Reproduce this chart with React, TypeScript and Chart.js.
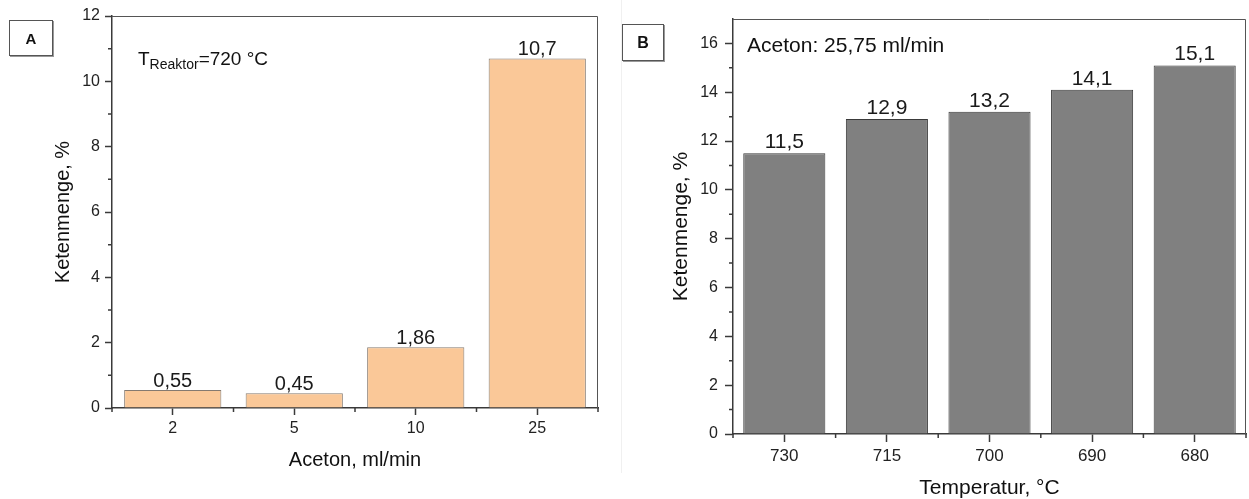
import React, { useEffect, useRef } from 'react';
import { Chart, registerables } from 'chart.js';

Chart.register(...registerables);

// ---------- data ----------
const flowCategories = ['2', '5', '10', '25'];
const flowValues = [0.55, 0.45, 1.86, 10.7];
const flowYTicks = [0, 2, 4, 6, 8, 10, 12];
const flowYMinor = [1, 3, 5, 7, 9, 11];

const tempCategories = ['730', '715', '700', '690', '680'];
const tempValues = [11.5, 12.9, 13.2, 14.1, 15.1];
const tempYTicks = [0, 2, 4, 6, 8, 10, 12, 14, 16];
const tempYMinor = [1, 3, 5, 7, 9, 11, 13, 15];

const FONT = '"Liberation Sans", Arimo, Arial, Helvetica, sans-serif';
const AXIS = '#3a3a3a';

const fmt = (v: number) => String(v).replace('.', ',');

type PanelCfg = {
  categories: string[];
  values: number[];
  yTicks: number[];
  yMinor: number[];
  yMax: number;
  xTitle: string;
  yTitle: string;
  fill: string;
  border: string;
  width: number;
  height: number;
  padding: { left: number; top: number; right: number; bottom: number };
  yWidth: number;
  xHeight: number;
  majorLen: number;
  minorLen: number;
  yTickPad: number;
  xTickPad: number;
  yTickSize: number;
  xTickSize: number;
  titleSize: number;
  yTitlePad: number;
  xTitlePad: number;
  valueSize: number;
  valueGap: number;
  annotate: (ctx: CanvasRenderingContext2D, ca: any) => void;
};

function makeConfig(c: PanelCfg): any {
  const decor = {
    id: 'decor',
    afterDatasetsDraw(chart: any) {
      const { ctx, chartArea: ca, scales } = chart;
      ctx.save();
      // frame top / right
      ctx.strokeStyle = '#555';
      ctx.lineWidth = 1;
      ctx.beginPath();
      ctx.moveTo(ca.left, ca.top + 0.5);
      ctx.lineTo(ca.right - 0.5, ca.top + 0.5);
      ctx.lineTo(ca.right - 0.5, ca.bottom);
      ctx.stroke();
      // minor ticks
      ctx.strokeStyle = AXIS;
      ctx.lineWidth = 1.5;
      ctx.beginPath();
      const y = scales.y;
      c.yMinor.forEach((v) => {
        const py = y.getPixelForValue(v);
        ctx.moveTo(ca.left - c.minorLen, py);
        ctx.lineTo(ca.left, py);
      });
      const x = scales.x;
      for (let i = 0; i <= c.categories.length; i++) {
        const px = x.getPixelForValue(i - 0.5);
        ctx.moveTo(px, ca.bottom);
        ctx.lineTo(px, ca.bottom + c.minorLen);
      }
      ctx.stroke();
      // value labels
      const meta = chart.getDatasetMeta(0);
      ctx.font = `${c.valueSize}px ${FONT}`;
      ctx.fillStyle = '#1a1a1a';
      ctx.textAlign = 'center';
      ctx.textBaseline = 'alphabetic';
      meta.data.forEach((bar: any, i: number) => {
        ctx.fillText(fmt(c.values[i]), bar.x, bar.y - c.valueGap);
      });
      ctx.textAlign = 'left';
      c.annotate(ctx, ca);
      ctx.restore();
    },
  };

  return {
    type: 'bar',
    data: {
      labels: c.categories,
      datasets: [
        {
          data: c.values,
          backgroundColor: c.fill,
          borderColor: c.border,
          borderWidth: 1,
          barPercentage: 0.8,
          categoryPercentage: 1.0,
        },
      ],
    },
    options: {
      responsive: false,
      animation: false,
      devicePixelRatio: 1,
      layout: { padding: c.padding },
      plugins: {
        legend: { display: false },
        tooltip: { enabled: false },
        title: { display: false },
      },
      scales: {
        x: {
          type: 'category',
          offset: true,
          grid: {
            offset: false,
            drawOnChartArea: false,
            drawTicks: true,
            tickLength: c.majorLen,
            tickWidth: 1.5,
            tickColor: AXIS,
          },
          border: { display: true, color: AXIS, width: 1.5 },
          ticks: {
            color: '#222',
            padding: c.xTickPad,
            maxRotation: 0,
            font: { family: FONT, size: c.xTickSize },
          },
          title: {
            display: true,
            text: c.xTitle,
            color: '#111',
            font: { family: FONT, size: c.titleSize, lineHeight: 1 },
            padding: { top: 0, bottom: c.xTitlePad },
          },
          afterFit: (s: any) => {
            s.height = c.xHeight;
          },
        },
        y: {
          type: 'linear',
          min: 0,
          max: c.yMax,
          bounds: 'data',
          grid: {
            drawOnChartArea: false,
            drawTicks: true,
            tickLength: c.majorLen,
            tickWidth: 1.5,
            tickColor: AXIS,
          },
          border: { display: true, color: AXIS, width: 1.5 },
          ticks: {
            color: '#222',
            padding: c.yTickPad,
            font: { family: FONT, size: c.yTickSize },
            callback: (v: any) => String(v),
          },
          afterBuildTicks: (s: any) => {
            s.ticks = c.yTicks.map((v) => ({ value: v }));
          },
          title: {
            display: true,
            text: c.yTitle,
            color: '#111',
            font: { family: FONT, size: c.titleSize, lineHeight: 1 },
            padding: { top: c.yTitlePad, bottom: 0 },
          },
          afterFit: (s: any) => {
            s.width = c.yWidth;
          },
        },
      },
    },
    plugins: [decor],
  };
}

function Panel({ cfg, left }: { cfg: PanelCfg; left: number }) {
  const ref = useRef<HTMLCanvasElement | null>(null);
  useEffect(() => {
    if (!ref.current) return;
    const chart = new Chart(ref.current, makeConfig(cfg));
    return () => chart.destroy();
  }, []);
  return (
    <canvas
      ref={ref}
      width={cfg.width}
      height={cfg.height}
      style={{ position: 'absolute', left, top: 0, width: cfg.width, height: cfg.height, display: 'block' }}
    />
  );
}

const panelA: PanelCfg = {
  categories: flowCategories,
  values: flowValues,
  yTicks: flowYTicks,
  yMinor: flowYMinor,
  yMax: 12,
  xTitle: 'Aceton, ml/min',
  yTitle: 'Ketenmenge, %',
  fill: '#FAC898',
  border: '#857a70',
  width: 620,
  height: 499,
  padding: { left: 0, top: 16, right: 22, bottom: 0 },
  yWidth: 112,
  xHeight: 91,
  majorLen: 7,
  minorLen: 4,
  yTickPad: 5,
  xTickPad: 4,
  yTickSize: 16,
  xTickSize: 16,
  titleSize: 20,
  yTitlePad: 53,
  xTitlePad: 29,
  valueSize: 20,
  valueGap: 3,
  annotate: (ctx, ca) => {
    const x0 = ca.left + 26;
    const base = ca.top + 49;
    ctx.fillStyle = '#111';
    ctx.font = `19px ${FONT}`;
    ctx.fillText('T', x0, base);
    const w1 = ctx.measureText('T').width;
    ctx.font = `14px ${FONT}`;
    ctx.fillText('Reaktor', x0 + w1, base + 4);
    const w2 = ctx.measureText('Reaktor').width;
    ctx.font = `19px ${FONT}`;
    ctx.fillText('=720 °C', x0 + w1 + w2, base);
  },
};

const panelB: PanelCfg = {
  categories: tempCategories,
  values: tempValues,
  yTicks: tempYTicks,
  yMinor: tempYMinor,
  yMax: 17,
  xTitle: 'Temperatur, °C',
  yTitle: 'Ketenmenge, %',
  fill: '#808080',
  border: '#3a3a3a',
  width: 629,
  height: 499,
  padding: { left: 0, top: 19, right: 3, bottom: 0 },
  yWidth: 113,
  xHeight: 65,
  majorLen: 8,
  minorLen: 4,
  yTickPad: 7,
  xTickPad: 4,
  yTickSize: 16,
  xTickSize: 17,
  titleSize: 21,
  yTitlePad: 51,
  xTitlePad: 0,
  valueSize: 21,
  valueGap: 5,
  annotate: (ctx, ca) => {
    ctx.fillStyle = '#111';
    ctx.font = `21px ${FONT}`;
    ctx.fillText('Aceton: 25,75 ml/min', ca.left + 14, ca.top + 32.5);
  },
};

const boxStyle: React.CSSProperties = {
  position: 'absolute',
  boxSizing: 'border-box',
  border: '1px solid #555',
  boxShadow: '1px 1px 0 #999',
  background: '#fff',
  display: 'flex',
  alignItems: 'center',
  justifyContent: 'center',
  fontFamily: FONT,
  fontWeight: 'bold',
  color: '#111',
  zIndex: 2,
};

export default function App() {
  return (
    <div style={{ position: 'absolute', left: 0, top: 0, width: 1249, height: 499, background: '#fff', overflow: 'hidden' }}>
      <Panel cfg={panelA} left={0} />
      <Panel cfg={panelB} left={620} />
      <div style={{ position: 'absolute', left: 621, top: 0, width: 0, height: 473, borderLeft: '1px solid #f0f0f0', zIndex: 1 }} />
      <div style={{ ...boxStyle, left: 9, top: 20, width: 44, height: 36, fontSize: 15 }}>A</div>
      <div style={{ ...boxStyle, left: 622, top: 24, width: 42, height: 37, fontSize: 16 }}>B</div>
    </div>
  );
}
